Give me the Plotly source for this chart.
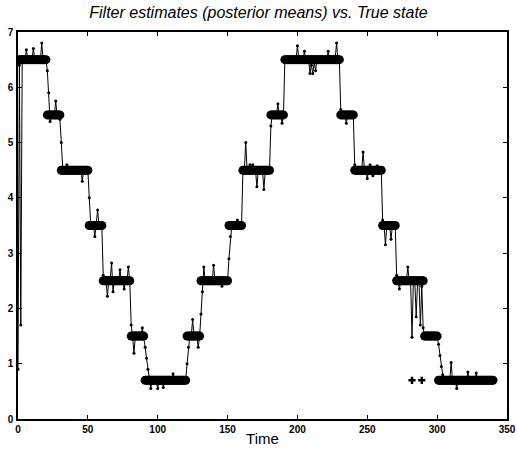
import plotly.graph_objects as go

# True (hidden) state: time steps and values
true_time = list(range(1, 341))
true_state = ([6.5] * 20 + [5.5] * 10 + [4.5] * 20 + [3.5] * 10 + [2.5] * 20 +
              [1.5] * 10 + [0.7] * 30 + [1.5] * 10 + [2.5] * 20 + [3.5] * 10 +
              [4.5] * 20 + [5.5] * 10 + [6.5] * 40 + [5.5] * 10 + [4.5] * 20 +
              [3.5] * 10 + [2.5] * 20 + [1.5] * 10 + [0.7] * 40)

# Filter estimates (posterior means), t = 0..340
est_time = list(range(0, 341))
est_values = [
    # t 0-20
    0.9, 6.4, 1.7, 6.45, 6.5, 6.5, 6.68, 6.5, 6.5, 6.5, 6.5, 6.7, 6.5, 6.5, 6.5, 6.5, 6.5, 6.8, 6.5, 6.5, 6.5,
    # t 21-30
    6.3, 5.9, 5.38, 5.5, 5.5, 5.5, 5.75, 5.5, 5.5, 5.42,
    # t 31-50
    5.0, 4.55, 4.5, 4.5, 4.6, 4.5, 4.5, 4.5, 4.5, 4.5, 4.5, 4.5, 4.5, 4.5, 4.5, 4.3, 4.5, 4.5, 4.5, 4.5,
    # t 51-60
    4.0, 3.55, 3.5, 3.5, 3.3, 3.5, 3.78, 3.5, 3.5, 3.5,
    # t 61-80
    2.6, 2.5, 2.5, 2.22, 2.5, 2.55, 2.82, 2.3, 2.5, 2.5, 2.5, 2.5, 2.7, 2.5, 2.5, 2.35, 2.5, 2.5, 2.75, 2.5,
    # t 81-90
    1.7, 1.5, 1.19, 1.5, 1.5, 1.5, 1.5, 1.5, 1.65, 1.5,
    # t 91-120
    1.3, 1.1, 0.9, 0.75, 0.55, 0.7, 0.7, 0.7, 0.7, 0.55, 0.7, 0.7, 0.7, 0.57, 0.7,
    0.7, 0.7, 0.7, 0.7, 0.7, 0.82, 0.7, 0.7, 0.7, 0.7, 0.7, 0.7, 0.7, 0.7, 0.7,
    # t 121-130
    1.0, 1.3, 1.5, 1.5, 1.8, 1.5, 1.5, 1.5, 1.3, 1.5,
    # t 131-150
    1.9, 2.3, 2.75, 2.5, 2.5, 2.5, 2.5, 2.5, 2.5, 2.78, 2.5, 2.5, 2.5, 2.5, 2.5, 2.4, 2.5, 2.5, 2.5, 2.5,
    # t 151-160
    2.9, 3.3, 3.5, 3.5, 3.5, 3.5, 3.6, 3.5, 3.45, 3.5,
    # t 161-180
    4.5, 4.5, 5.0, 4.5, 4.5, 4.6, 4.5, 4.6, 4.5, 4.5, 4.2, 4.5, 4.5, 4.5, 4.5, 4.15, 4.5, 4.5, 4.5, 4.5,
    # t 181-190
    5.3, 5.5, 5.5, 5.5, 5.5, 5.7, 5.5, 5.5, 5.35, 5.5,
    # t 191-230
    6.5, 6.5, 6.5, 6.5, 6.5, 6.5, 6.5, 6.5, 6.5, 6.75, 6.5, 6.5, 6.5, 6.5, 6.65, 6.5, 6.5, 6.5, 6.25, 6.4,
    6.25, 6.45, 6.3, 6.5, 6.5, 6.5, 6.5, 6.5, 6.5, 6.5, 6.5, 6.65, 6.5, 6.5, 6.5, 6.5, 6.5, 6.8, 6.5, 6.5,
    # t 231-240
    5.6, 5.5, 5.5, 5.5, 5.35, 5.5, 5.5, 5.5, 5.5, 5.5,
    # t 241-260
    4.6, 4.5, 4.5, 4.5, 4.5, 4.5, 4.83, 4.5, 4.5, 4.35, 4.5, 4.6, 4.5, 4.4, 4.55, 4.5, 4.58, 4.5, 4.5, 4.5,
    # t 261-270
    3.6, 3.5, 3.15, 3.5, 3.5, 3.5, 3.25, 3.5, 3.5, 3.5,
    # t 271-290
    2.6, 2.5, 2.35, 2.5, 2.5, 2.5, 2.5, 2.5, 2.75, 2.5, 2.5, 1.48, 2.5, 2.5, 1.85, 2.5, 2.5, 1.7, 2.4, 1.65,
    # t 291-300
    1.5, 1.5, 1.5, 1.5, 1.5, 1.5, 1.5, 1.5, 1.5, 1.5,
    # t 301-340
    1.35, 1.15, 0.95, 0.8, 0.7, 0.7, 0.7, 0.7, 0.7, 1.02, 0.7, 0.7, 0.7, 0.55, 0.7, 0.7, 0.7, 0.7, 0.7, 0.7,
    0.7, 0.85, 0.7, 0.7, 0.7, 0.7, 0.7, 0.83, 0.7, 0.7, 0.7, 0.7, 0.7, 0.7, 0.7, 0.7, 0.7, 0.7, 0.7, 0.7,
]

# Isolated '+' marks
extra_time = [282, 289]
extra_values = [0.7, 0.7]

x_ticks = [0, 50, 100, 150, 200, 250, 300, 350]
y_ticks = [0, 1, 2, 3, 4, 5, 6, 7]

FONT = "Liberation Sans, Arial, sans-serif"

fig = go.Figure()
fig.add_trace(go.Scatter(
    x=true_time, y=true_state, mode="markers",
    marker=dict(symbol="circle", size=9, color="black", line=dict(width=0)),
    name="True state", showlegend=False))
fig.add_trace(go.Scatter(
    x=est_time, y=est_values, mode="lines+markers",
    line=dict(color="black", width=1),
    marker=dict(symbol="circle", size=3, color="black"),
    name="Filter estimate", showlegend=False))
fig.add_trace(go.Scatter(
    x=extra_time, y=extra_values, mode="markers",
    marker=dict(symbol="cross", size=6, color="black", line=dict(width=0)),
    showlegend=False))

axis_common = dict(
    showgrid=False, zeroline=False, showline=True, linecolor="black", linewidth=1.5,
    mirror="ticks", ticks="inside", ticklen=4, tickcolor="black", tickwidth=1,
    automargin=False,
    tickfont=dict(family=FONT, size=10, color="black", weight="bold"),
)
fig.update_xaxes(range=[0, 350], tickvals=x_ticks, ticktext=[str(v) for v in x_ticks],
                 title=dict(text="Time", standoff=0,
                            font=dict(family=FONT, size=15, color="black")),
                 **axis_common)
fig.update_yaxes(range=[0, 7], tickvals=y_ticks, ticktext=[str(v) for v in y_ticks],
                 ticklabelstandoff=1, **axis_common)

fig.update_layout(
    width=517, height=449,
    margin=dict(l=17.5, r=9.5, t=32, b=30, autoexpand=False),
    paper_bgcolor="white", plot_bgcolor="white",
    title=dict(text="<i>Filter estimates (posterior means) vs. True state</i>",
               x=0.5, xanchor="center", y=0.973, yanchor="middle",
               font=dict(family=FONT, size=16, color="black")),
)

fig.write_html("out.html", config={"displayModeBar": False},
               post_script="document.body.style.margin='0px';")
